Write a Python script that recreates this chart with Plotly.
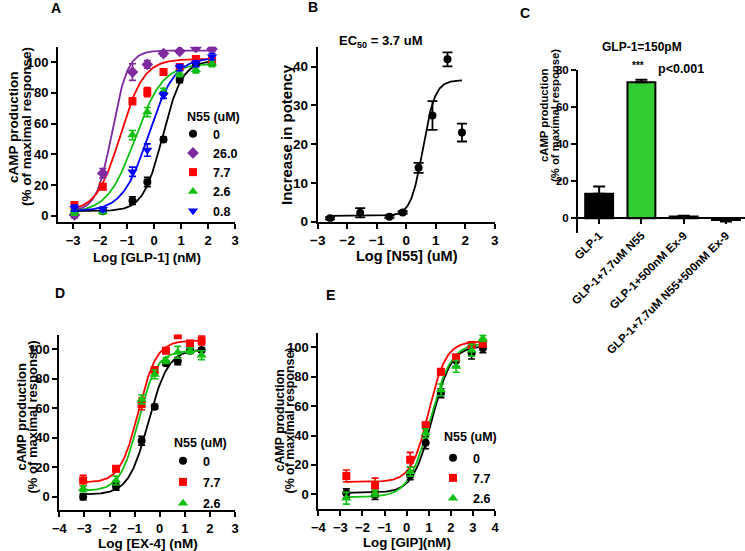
import numpy as np
import plotly.graph_objects as go

W, H = 745, 551
FONT = "Liberation Sans, Arial, sans-serif"

# ---------------- data ----------------
# Panel A : GLP-1 dose response with N55
A_x = [-2.95, -1.9, -0.8, -0.25, 0.35, 0.95, 1.55, 2.15]
A_series = ["0", "26.0", "7.7", "2.6", "0.8"]
A_y = {
    "0":    [3.0, 3.0, 9.9, 22.0, 49.7, 88.6, 99.0, 99.5],
    "26.0": [0.6, 27.7, 93.5, 98.5, 105.5, 107.0, 109.5, 108.5],
    "7.7":  [7.0, 19.0, 74.5, 80.5, 93.5, 96.8, 102.0, 101.0],
    "2.6":  [2.5, 2.8, 52.5, 67.5, 81.0, 92.5, 95.0, 99.0],
    "0.8":  [5.0, 4.3, 28.7, 42.8, 78.4, 96.4, 99.0, 103.5],
}
A_err = {
    "0":    [1.0, 1.0, 2.5, 3.0, 1.5, 2.0, 1.5, 1.5],
    "26.0": [2.0, 3.0, 5.4, 2.5, 1.5, 1.0, 1.5, 1.5],
    "7.7":  [2.0, 2.0, 2.0, 3.0, 2.0, 2.0, 2.0, 2.0],
    "2.6":  [2.0, 1.5, 3.0, 3.0, 2.0, 2.0, 2.0, 2.0],
    "0.8":  [2.0, 1.5, 3.0, 4.0, 2.0, 2.0, 2.0, 2.0],
}
# fitted 4-parameter logistic: bottom, top, logEC50, hill
A_fit = {
    "0":    [3.0, 101.0, 0.32, 1.2],
    "26.0": [3.0, 107.5, -1.55, 1.5],
    "7.7":  [3.0, 102.0, -1.25, 1.0],
    "2.6":  [2.0, 99.0, -0.7, 0.85],
    "0.8":  [3.0, 103.0, -0.2, 0.9],
}

# Panel B : increase in potency vs N55
B_x = [-2.58, -1.56, -0.57, -0.12, 0.42, 0.89, 1.40, 1.89]
B_y = [0.9, 2.3, 1.3, 2.4, 13.9, 27.4, 41.9, 23.0]
B_err = [0.3, 1.2, 0.3, 0.3, 1.3, 3.7, 1.8, 2.3]
B_fit = [1.5, 36.5, 0.568, 2.1]

# Panel C : bars
C_cats = ["GLP-1", "GLP-1+7.7uM N55", "GLP-1+500nM Ex-9", "GLP-1+7.7uM N55+500nM Ex-9"]
C_vals = [13.1, 73.2, 0.9, -1.0]
C_err_up = [4.0, 1.4, 0.4, 0.0]
C_err_down = [0.0, 0.0, 0.0, 0.8]

# Panel D : EX-4
D_x = [-3.05, -1.74, -0.72, -0.2, 0.25, 0.72, 1.21, 1.67]
D_series = ["0", "7.7", "2.6"]
D_y = {
    "0":   [0.0, 7.0, 38.0, 61.0, 90.5, 92.0, 99.0, 99.5],
    "7.7": [11.0, 19.0, 63.0, 86.0, 99.0, 109.5, 104.0, 106.0],
    "2.6": [5.5, 11.0, 66.0, 83.0, 92.5, 98.0, 99.0, 96.0],
}
D_err = {
    "0":   [2.0, 2.5, 3.0, 1.5, 1.5, 2.5, 1.5, 1.5],
    "7.7": [3.5, 2.0, 4.0, 2.0, 1.5, 1.5, 2.0, 3.0],
    "2.6": [2.0, 3.0, 3.0, 3.0, 2.0, 4.0, 2.0, 3.0],
}
D_fit = {
    "0":   [1.5, 100.0, -0.45, 1.1],
    "7.7": [9.5, 106.0, -0.85, 1.2],
    "2.6": [4.0, 99.0, -0.85, 1.2],
}

# Panel E : GIP
E_x = [-2.73, -1.43, 0.16, 0.86, 1.55, 2.24, 2.94, 3.45]
E_series = ["0", "7.7", "2.6"]
E_y = {
    "0":   [0.7, -0.5, 13.0, 35.0, 68.7, 91.0, 96.0, 99.3],
    "7.7": [12.5, 6.0, 23.5, 47.0, 83.4, 93.0, 101.5, 102.5],
    "2.6": [-2.7, 0.5, 15.4, 41.5, 71.0, 87.0, 98.0, 106.0],
}
E_err = {
    "0":   [3.0, 3.0, 3.0, 4.0, 3.0, 4.0, 4.0, 3.0],
    "7.7": [4.0, 5.0, 5.0, 2.0, 2.0, 2.0, 2.0, 2.0],
    "2.6": [4.0, 2.0, 3.0, 3.0, 4.0, 4.0, 4.0, 2.0],
}
E_fit = {
    "0":   [1.0, 101.0, 1.15, 1.0],
    "7.7": [8.5, 104.0, 1.0, 1.1],
    "2.6": [-2.0, 103.0, 1.05, 0.9],
}

# ---------------- styles ----------------
COLORS = {"0": "#000000", "26.0": "#7F2A9F", "7.7": "#FF0000", "2.6": "#10C010", "0.8": "#0000FF"}
SYMBOLS = {"0": "circle", "26.0": "diamond", "7.7": "square", "2.6": "triangle-up", "0.8": "triangle-down"}
SIZES = {"0": 8, "26.0": 9, "7.7": 8, "2.6": 9, "0.8": 9}


def logistic(x, p):
    b, t, ec, h = p
    return b + (t - b) / (1.0 + 10 ** (h * (ec - x)))


def px(v):
    return v / W


def py(v):
    return 1 - v / H


fig = go.Figure()


def add_curve_panel(xs, series, ys, errs, fits, xa, ya, legend):
    for s in series:
        xx = np.linspace(min(xs), max(xs), 200)
        fig.add_trace(go.Scatter(x=xx, y=logistic(xx, fits[s]), mode="lines",
                                 line=dict(color=COLORS[s], width=1.8),
                                 xaxis=xa, yaxis=ya, showlegend=False, hoverinfo="skip"))
    for s in series:
        fig.add_trace(go.Scatter(x=xs, y=ys[s], mode="markers",
                                 marker=dict(color=COLORS[s], symbol=SYMBOLS[s], size=SIZES[s]),
                                 error_y=dict(type="data", array=errs[s], color=COLORS[s],
                                              thickness=1.6, width=3.5),
                                 xaxis=xa, yaxis=ya, showlegend=False))
    for s in series:
        fig.add_trace(go.Scatter(x=[None], y=[None], mode="markers", name=s,
                                 marker=dict(color=COLORS[s], symbol=SYMBOLS[s], size=SIZES[s]),
                                 xaxis=xa, yaxis=ya, legend=legend, legendgroup=legend + s,
                                 showlegend=True))


add_curve_panel(A_x, A_series, A_y, A_err, A_fit, "x", "y", "legend")
add_curve_panel(D_x, D_series, D_y, D_err, D_fit, "x4", "y4", "legend2")
add_curve_panel(E_x, E_series, E_y, E_err, E_fit, "x5", "y5", "legend3")

# Panel B
bx = np.linspace(min(B_x), max(B_x), 200)
fig.add_trace(go.Scatter(x=bx, y=logistic(bx, B_fit), mode="lines",
                         line=dict(color="black", width=1.8), xaxis="x2", yaxis="y2",
                         showlegend=False, hoverinfo="skip"))
fig.add_trace(go.Scatter(x=B_x, y=B_y, mode="markers",
                         marker=dict(color="black", symbol="circle", size=8),
                         error_y=dict(type="data", array=B_err, color="black", thickness=1.8, width=5),
                         xaxis="x2", yaxis="y2", showlegend=False))

# Panel C
fig.add_trace(go.Bar(x=list(range(len(C_cats))), y=C_vals, width=0.66,
                     marker=dict(color=["#000000", "#33CC33", "#000000", "#000000"],
                                 line=dict(color="black", width=2)),
                     error_y=dict(type="data", symmetric=False, array=C_err_up, arrayminus=C_err_down,
                                  color="black", thickness=2, width=6),
                     xaxis="x3", yaxis="y3", showlegend=False))

# ---------------- axes ----------------
def axis_common(size=12):
    return dict(showline=True, linecolor="black", linewidth=2, ticks="outside", ticklen=5,
                tickwidth=2, tickcolor="black", showgrid=False, zeroline=False, automargin=False,
                tickfont=dict(family=FONT, size=size, color="black", weight="bold"))


layout = dict(
    width=W, height=H, margin=dict(l=0, r=0, t=0, b=0, pad=0, autoexpand=False),
    paper_bgcolor="white", plot_bgcolor="white",
    xaxis=dict(domain=[px(58), px(235)], range=[-3.56, 3], anchor="y",
               tickvals=[-3, -2, -1, 0, 1, 2, 3], **axis_common(13)),
    yaxis=dict(domain=[py(222), py(46.7)], range=[-4, 110], anchor="x",
               tickvals=[0, 20, 40, 60, 80, 100], **axis_common(13)),
    xaxis2=dict(domain=[px(317.7), px(494.7)], range=[-3, 3], anchor="y2",
                tickvals=[-3, -2, -1, 0, 1, 2, 3], **axis_common(13.5)),
    yaxis2=dict(domain=[py(221.7), py(47.3)], range=[0, 45], anchor="x2",
                tickvals=[0, 10, 20, 30, 40], **axis_common(13.5)),
    xaxis3=dict(domain=[px(578), 1.0], range=[-0.5, 3.45], anchor="free", position=py(218.3),
                tickvals=list(range(len(C_cats))), ticktext=C_cats, tickangle=-45,
                **axis_common(11.5)),
    yaxis3=dict(domain=[py(233), py(69.7)], range=[-8, 80], anchor="x3",
                tickvals=[0, 20, 40, 60, 80], **axis_common(11.5)),
    xaxis4=dict(domain=[px(59.3), px(235)], range=[-4, 3], anchor="y4",
                tickvals=[-4, -3, -2, -1, 0, 1, 2, 3], **axis_common(13)),
    yaxis4=dict(domain=[py(510), py(334.6)], range=[-9, 110], anchor="x4",
                tickvals=[0, 20, 40, 60, 80, 100], **axis_common(13)),
    xaxis5=dict(domain=[px(318.3), px(495)], range=[-4, 4], anchor="y5",
                tickvals=[-4, -3, -2, -1, 0, 1, 2, 3, 4], **axis_common(13)),
    yaxis5=dict(domain=[py(509.3), py(332.6)], range=[-10.2, 110], anchor="x5",
                tickvals=[0, 20, 40, 60, 80, 100], **axis_common(13)),
)


def legend_cfg(x, y, gap):
    return dict(x=px(x), y=py(y), xanchor="left", yanchor="top", bgcolor="rgba(0,0,0,0)",
                borderwidth=0, tracegroupgap=gap, itemclick=False,
                font=dict(family=FONT, size=12.5, color="black", weight="bold"))


layout["legend"] = legend_cfg(173, 119, 0)
layout["legend2"] = legend_cfg(163, 446, 2)
layout["legend3"] = legend_cfg(433, 443, 1)

fig.update_layout(**layout)


def ann(text, x, y, size=12, angle=0, xanchor="center"):
    fig.add_annotation(text=text, x=px(x), y=py(y), xref="paper", yref="paper",
                       showarrow=False, textangle=angle, xanchor=xanchor, yanchor="middle",
                       font=dict(family=FONT, size=size, color="black", weight="bold"))


# panel letters
ann("A", 56, 8, 14)
ann("B", 313, 7, 14)
ann("C", 525, 13, 14)
ann("D", 60, 293, 14)
ann("E", 330, 295, 14)

# legend titles
ann("N55 (uM)", 185, 117, 12.5, xanchor="left")
ann("N55 (uM)", 172, 443, 12.5, xanchor="left")
ann("N55 (uM)", 442, 437, 12.5, xanchor="left")

# axis titles
ann("Log [GLP-1] (nM)", 147, 257, 13.3)
ann("cAMP production", 14, 127, 13.5, -90)
ann("(% of maximal response)", 27, 127, 13.5, -90)
ann("Log [N55] (uM)", 407, 256, 14.5)
ann("Increase in potency", 286, 135, 15, -90)
ann("EC<sub>50</sub> = 3.7 uM", 380, 42, 13)
ann("GLP-1=150pM", 642, 47, 12)
ann("***", 638, 65, 10)
ann("p<0.001", 681, 69, 12.5)
ann("cAMP production", 544, 116, 11.3, -90)
ann("(% of maximal response)", 555, 116, 11.3, -90)
ann("Log [EX-4] (nM)", 148, 543, 13.5)
ann("cAMP production", 21, 417.5, 13, -90)
ann("(% of maximal response)", 32, 417.5, 13, -90)
ann("Log [GIP](nM)", 407, 542, 13.3)
ann("cAMP production", 279, 420.5, 12.4, -90)
ann("(% of maximal response)", 289, 420.5, 12.4, -90)

fig.write_html(
    "out.html",
    config={"displayModeBar": False},
    post_script="document.body.style.margin='0';document.body.style.padding='0';"
                "document.body.style.overflow='hidden';",
)
